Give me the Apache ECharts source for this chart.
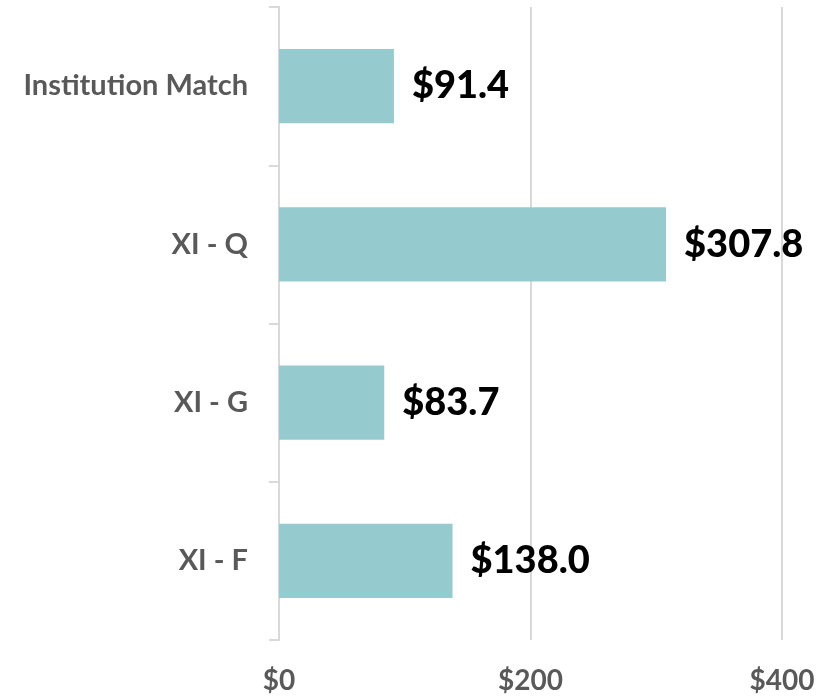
<!DOCTYPE html>
<html>
<head>
<meta charset="utf-8">
<script src="https://cdn.jsdelivr.net/npm/echarts@6/dist/echarts.min.js"></script>
<style>
  html, body { margin: 0; padding: 0; background: #fff; }
  #chart { width: 825px; height: 696px; }
</style>
</head>
<body>
<div id="chart"></div>
<script>
// top-to-bottom order as shown
const categories = ['Institution Match', 'XI - Q', 'XI - G', 'XI - F']
const amounts = [91.4, 307.8, 83.7, 138.0]
const tickValues = [0, 200, 400]

const chart = echarts.init(document.getElementById('chart'))
chart.setOption({
  animation: false,
  grid: {
    left: 279,
    right: 43,
    top: 7,
    bottom: 56
  },
  xAxis: {
    type: 'value',
    min: tickValues[0],
    max: tickValues[tickValues.length - 1],
    interval: 200,
    axisLine: { show: false },
    axisTick: { show: false },
    splitLine: { lineStyle: { color: '#d9d9d9', width: 2 } },
    axisLabel: {
      margin: 27,
      color: '#595959',
      fontFamily: 'Lato',
      fontWeight: 'bold',
      fontSize: 28,
      formatter: v => '$' + v
    }
  },
  yAxis: {
    type: 'category',
    inverse: true,
    data: categories,
    axisLine: { show: true, lineStyle: { color: '#d9d9d9', width: 2 } },
    axisTick: { show: true, length: 10, lineStyle: { color: '#d9d9d9', width: 2 } },
    axisLabel: {
      margin: 31,
      color: '#595959',
      fontFamily: 'Lato',
      fontWeight: 'bold',
      fontSize: 29
    }
  },
  series: [{
    type: 'bar',
    data: amounts,
    barWidth: '47%',
    itemStyle: { color: '#95cbce' },
    label: {
      show: true,
      position: 'right',
      distance: 18,
      color: '#000',
      fontFamily: 'Lato',
      fontWeight: 900,
      fontSize: 38,
      formatter: p => '$' + p.value.toFixed(1)
    }
  }]
})
</script>
</body>
</html>
